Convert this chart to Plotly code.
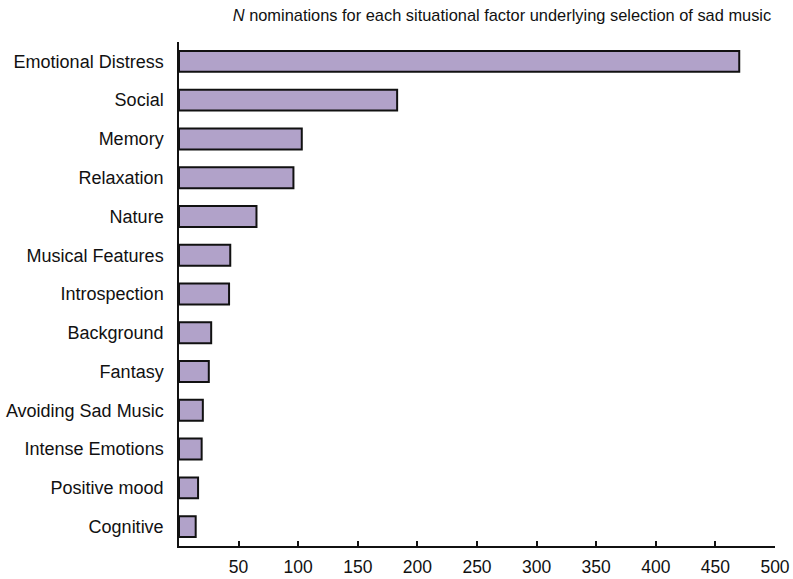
import plotly.graph_objects as go

categories = ["Emotional Distress", "Social", "Memory", "Relaxation", "Nature",
              "Musical Features", "Introspection", "Background", "Fantasy",
              "Avoiding Sad Music", "Intense Emotions", "Positive mood", "Cognitive"]
nominations = [470, 183, 103, 96, 65, 43, 42, 27, 25, 20, 19, 16, 14]
x_ticks = [50, 100, 150, 200, 250, 300, 350, 400, 450, 500]
title_text = "<i>N</i> nominations for each situational factor underlying selection of sad music"

FONT = "Liberation Sans, Arial, sans-serif"

fig = go.Figure(go.Bar(
    x=nominations, y=categories, orientation="h",
    marker=dict(color="#b1a2c9", line=dict(color="#111111", width=2)),
    hoverinfo="x+y",
))

fig.update_layout(
    width=793, height=579,
    margin=dict(l=179, r=18, t=42, b=33, autoexpand=False),
    plot_bgcolor="white", paper_bgcolor="white",
    bargap=0.46,
    showlegend=False,
    title=dict(text=title_text, font=dict(family=FONT, size=16.4, color="#111111"),
               x=0.633, xref="container", xanchor="center",
               y=1 - 15 / 579, yref="container", yanchor="middle"),
    font=dict(family=FONT, color="#111111"),
)

fig.update_xaxes(
    range=[0, 500], tickvals=x_ticks, ticktext=[str(v) for v in x_ticks],
    showgrid=False, zeroline=False, automargin=False,
    showline=True, linecolor="#111111", linewidth=1.5,
    ticks="inside", ticklen=5, tickwidth=1.5, tickcolor="#111111",
    tickfont=dict(family=FONT, size=17.5, color="#111111"),
    ticklabelstandoff=4,
)
fig.update_yaxes(
    categoryorder="array", categoryarray=categories,
    autorange="reversed",
    showgrid=False, zeroline=False, automargin=False,
    showline=True, linecolor="#111111", linewidth=1.5,
    ticks="",
    tickfont=dict(family=FONT, size=18, color="#111111"),
    ticklabelstandoff=10,
)

fig.write_html(
    "out.html",
    config={"displayModeBar": False},
    post_script="document.body.style.margin='0';document.body.style.overflow='hidden';",
)
